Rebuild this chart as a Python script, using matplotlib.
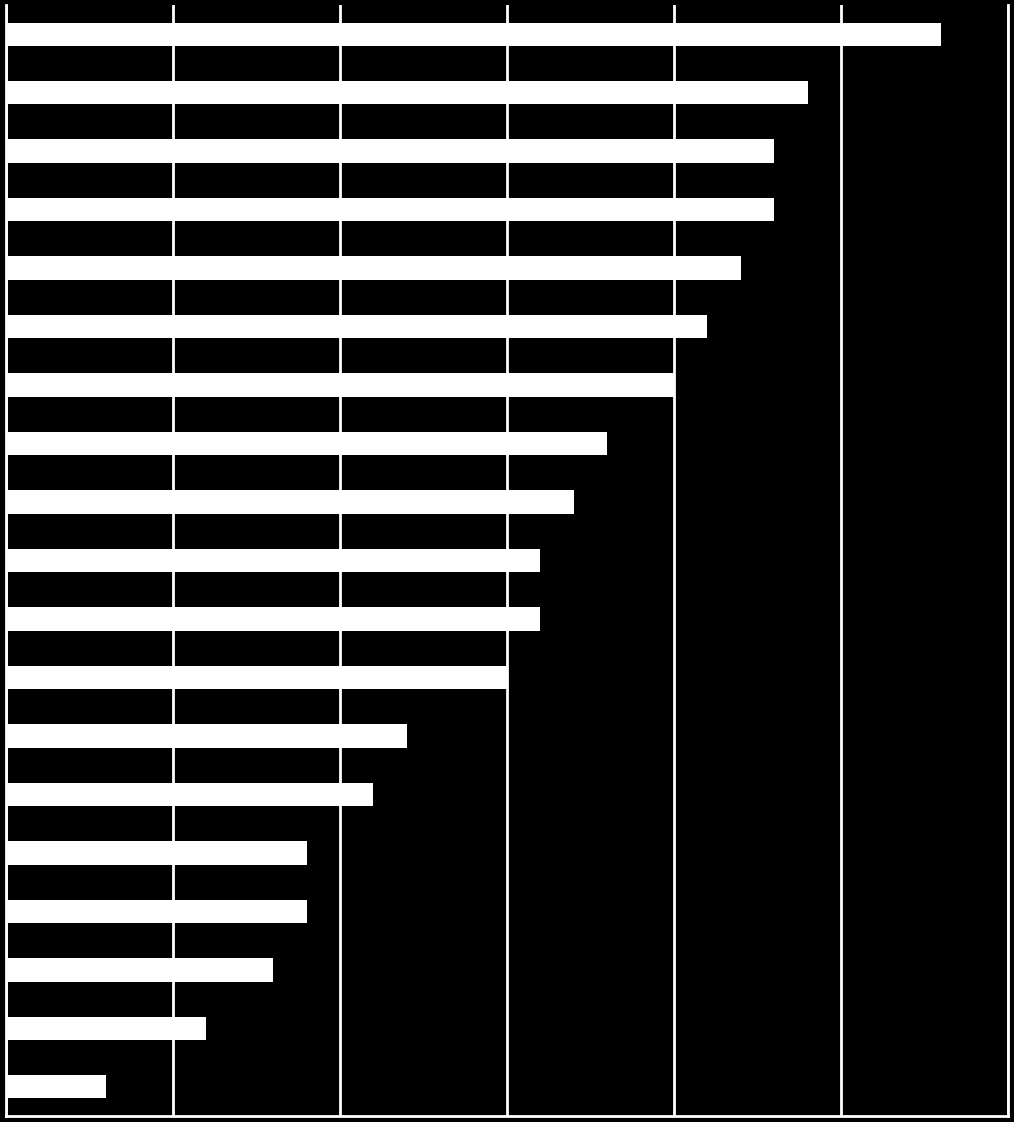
import numpy as np
import matplotlib
matplotlib.use("Agg")
import matplotlib.pyplot as plt

# bar values, top to bottom
values = [28, 24, 23, 23, 22, 21, 20, 18, 17, 16, 16, 15, 12, 11, 9, 9, 8, 6, 3]
xticks = [0, 5, 10, 15, 20, 25, 30]

fig = plt.figure(figsize=(10.14, 11.22), dpi=100, facecolor="black")
ax = fig.add_axes([6 / 1014, 6 / 1122, 1002 / 1014, 1111 / 1122], facecolor="black")

y = np.arange(len(values))
ax.barh(y, values, height=0.4, color="white", zorder=3)

ax.set_xlim(0, 30)
ax.set_ylim(len(values) - 0.5, -0.5)
ax.set_xticks(xticks)
ax.set_yticks([])
ax.tick_params(axis="x", length=0, labelbottom=False)
ax.grid(axis="x", color="white", linewidth=2, zorder=1)
ax.set_axisbelow(True)

for side in ["left", "bottom", "right"]:
    ax.spines[side].set_color("white")
    ax.spines[side].set_linewidth(2)
ax.spines["top"].set_visible(False)

fig.savefig("out.png", dpi=100, facecolor="black")
